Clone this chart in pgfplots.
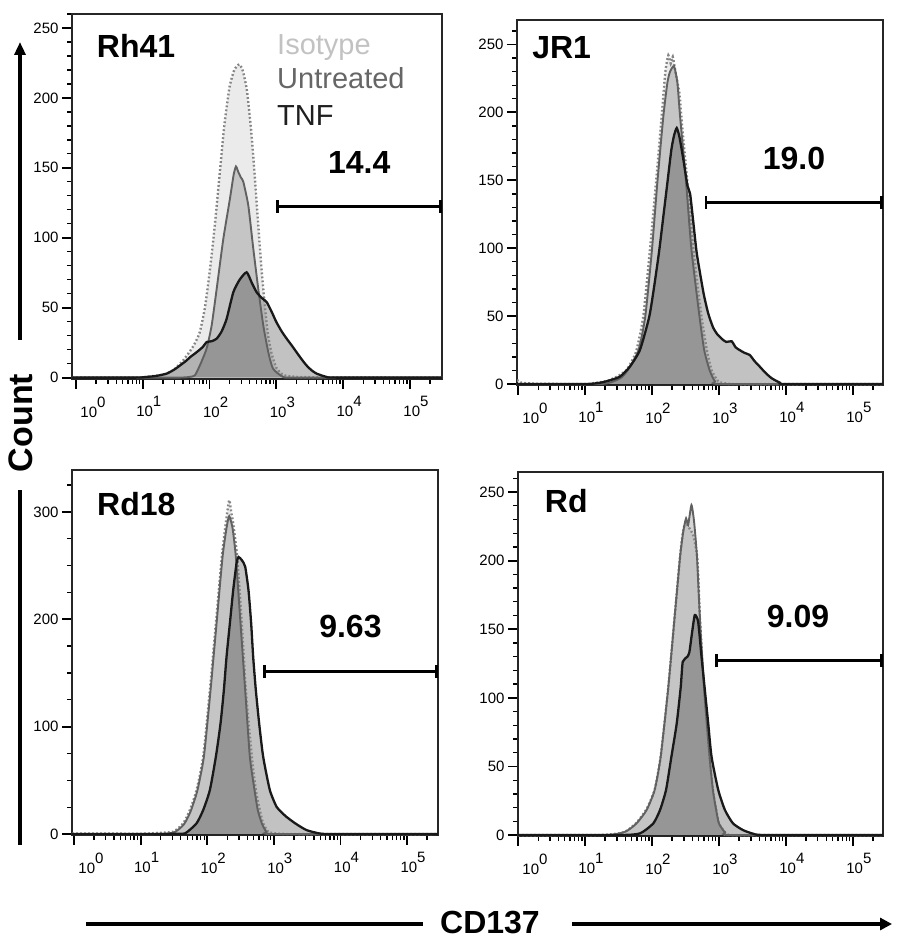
\documentclass[border=0pt]{standalone}
\usepackage{pgfplots}
\pgfplotsset{compat=1.18}
\usepackage{pgfplotstable}
\usepackage{fontspec}
\setmainfont{Liberation Sans}
\usetikzlibrary{arrows.meta}

\newcommand{\dec}[1]{10\raisebox{10pt}{#1}}
\definecolor{cIso}{gray}{0.52}
\definecolor{cUnt}{gray}{0.38}
\definecolor{cTnf}{gray}{0.10}
\definecolor{cIsoText}{gray}{0.76}
\definecolor{cUntText}{gray}{0.40}

% ---------- Panel 1: Rh41 ----------
\pgfplotstableread{
x y
-0.06 0
0.9 0
1.1 0.8
1.3 2
1.45 5
1.6 12
1.75 22
1.85 32
1.93 50
2.0 75
2.07 105
2.14 140
2.22 180
2.30 208
2.37 220
2.445 224
2.50 219
2.56 205
2.62 178
2.67 148
2.72 115
2.77 82
2.82 55
2.87 32
2.93 17
3.0 7
3.1 2
3.25 0.7
3.5 0.3
5.48 0
}\isoA
\pgfplotstableread{
x y
-0.06 0
1.5 0
1.7 0.5
1.78 1.6
1.855 8.8
1.955 20.7
2.03 37
2.105 63
2.205 99
2.305 128
2.36 145
2.395 151
2.43 147
2.47 143
2.505 140
2.58 123
2.655 92
2.73 63
2.805 37
2.88 18
2.95 6.4
3.10 0.5
3.3 0
5.48 0
}\untA
\pgfplotstableread{
x y
-0.06 0
0.9 0
1.06 0.5
1.2 1.2
1.36 2.9
1.48 6
1.56 8.8
1.65 12
1.71 14.7
1.81 18.3
1.9 22
1.955 25.4
2.03 26
2.105 27.8
2.18 33
2.255 42
2.355 61
2.45 70
2.555 75.3
2.63 68
2.705 61
2.78 57
2.855 54
2.93 47
3.0 39.7
3.08 33
3.155 27.8
3.23 23
3.30 18.3
3.38 13
3.45 8.8
3.52 5.5
3.60 2.9
3.75 0.5
3.9 0
5.48 0
}\tnfA

% ---------- Panel 2: JR1 ----------
\pgfplotstableread{
x y
-0.015 3
0.05 1
0.3 0.2
1.0 0
1.1 0.5
1.25 1.5
1.37 3
1.5 6
1.62 10.3
1.70 17
1.77 25
1.87 49.6
1.97 98.8
2.06 148
2.145 197
2.20 230
2.245 242
2.28 236
2.31 241
2.35 230
2.41 214
2.45 190
2.53 148
2.62 98.8
2.74 49.6
2.82 25
2.89 10.3
2.99 2
3.1 0.5
3.3 0
5.45 0
}\isoB
\pgfplotstableread{
x y
-0.015 0
1.2 0
1.4 1.5
1.55 5
1.65 11
1.80 25
1.90 49.6
2.0 98.8
2.08 148
2.17 197
2.23 221.7
2.27 230
2.33 234
2.38 221.7
2.42 197
2.51 148
2.59 98.8
2.71 49.6
2.78 25
2.86 10.3
2.94 2
3.05 0
5.45 0
}\untB
\pgfplotstableread{
x y
-0.015 0
1.0 0
1.2 0.8
1.32 2
1.52 5.4
1.67 12.8
1.82 25
1.96 49.6
2.04 74.2
2.11 98.8
2.17 123.4
2.23 148
2.29 172.6
2.33 183
2.37 188.5
2.41 182
2.47 165
2.53 146
2.57 140
2.62 118
2.67 96
2.77 67
2.84 52
2.91 42
2.97 37
3.05 33
3.11 31
3.19 31.5
3.25 27
3.31 25
3.38 23
3.46 21.4
3.53 17
3.61 12.8
3.70 8
3.79 4.2
3.91 1
4.0 0
5.45 0
}\tnfB

% ---------- Panel 3: Rd18 ----------
\pgfplotstableread{
x y
-0.03 0.5
1.0 0.3
1.24 1
1.49 2.2
1.64 10
1.74 22.4
1.84 41
1.94 72
2.04 134
2.13 196
2.22 258
2.28 290
2.33 311
2.36 300
2.39 289
2.45 258
2.52 196
2.58 134
2.67 72
2.73 41
2.79 22.4
2.84 10
2.92 2
3.05 0.5
3.3 0
5.465 0
}\isoC
\pgfplotstableread{
x y
-0.03 0
1.2 0
1.5 1.5
1.65 9
1.75 21
1.85 40
1.95 72
2.05 134
2.14 196
2.23 258
2.29 285
2.33 296
2.38 285
2.43 258
2.50 196
2.57 134
2.64 72
2.71 41
2.76 22
2.82 10
2.89 2
3.0 0
5.465 0
}\untC
\pgfplotstableread{
x y
-0.03 0
1.3 0
1.5 0.3
1.67 0.7
1.84 10
1.94 22.4
2.04 41
2.13 72
2.20 103
2.25 134
2.29 165
2.34 196
2.39 227
2.44 252
2.47 258
2.52 255
2.57 249
2.62 227
2.66 196
2.69 165
2.73 134
2.78 103
2.84 72
2.94 41
3.04 25.5
3.12 20
3.19 16
3.32 10
3.49 3.7
3.69 0.5
3.9 0
5.465 0
}\tnfC

% ---------- Panel 4: Rd ----------
\pgfplotstableread{
x y
0 0
1.2 0
1.5 1.2
1.62 3
1.77 9
1.92 19
2.04 33
2.13 57
2.24 106
2.33 154
2.42 203
2.46 220
2.50 228
2.54 225
2.58 222
2.62 218
2.67 205
2.69 190
2.72 154
2.78 106
2.86 57
2.91 33
2.96 18
3.00 8.5
3.09 2
3.2 0
5.45 0
}\isoD
\pgfplotstableread{
x y
0 0
1.3 0
1.6 2.4
1.77 8.5
1.92 18.2
2.04 32.8
2.13 57
2.24 105.7
2.33 154.3
2.42 202.8
2.47 222
2.51 230.8
2.54 226
2.59 240.5
2.63 228
2.67 205
2.69 185
2.72 154.3
2.78 105.7
2.86 57
2.91 32.8
2.96 18
3.00 8.5
3.09 2
3.2 0
5.45 0
}\untD
\pgfplotstableread{
x y
0 0
1.5 0
1.82 1.2
2.02 8.5
2.12 18.2
2.21 32.8
2.29 57
2.37 81.4
2.43 108
2.46 126.3
2.53 130
2.56 133.6
2.60 148
2.64 160.3
2.69 155.5
2.74 130
2.79 105.7
2.84 81.4
2.89 57
2.99 32.8
3.09 18.2
3.21 8.5
3.36 3.6
3.51 1
3.7 0
5.45 0
}\tnfD

\tikzset{gate/.style={line width=2.6pt, {Bar[width=13pt,line width=2.6pt]}-{Bar[width=13pt,line width=2.6pt]}}}

\pgfplotsset{
  flow/.style={
    scale only axis,
    clip mode=individual,
    axis line style={line width=1.6pt, black!85},
    tick align=outside,
    xtick pos=left, ytick pos=left,
    major tick length=10pt, minor tick length=5pt,
    every major tick/.append style={black, line width=1.8pt},
    every minor tick/.append style={black, line width=1.3pt},
    tick label style={font=\fontsize{15}{15}\selectfont},
    /pgf/number format/assume math mode=true,
    xtick={0,1,2,3,4,5},
    xticklabels={\hspace*{22pt}\dec{0},\dec{1},\dec{2},\dec{3},\dec{4},\dec{5}},
    xticklabel style={xshift=6pt, yshift=-4pt},
    minor xtick={0.301,0.477,0.602,0.699,0.778,0.845,0.903,0.954,
                 1.301,1.477,1.602,1.699,1.778,1.845,1.903,1.954,
                 2.301,2.477,2.602,2.699,2.778,2.845,2.903,2.954,
                 3.301,3.477,3.602,3.699,3.778,3.845,3.903,3.954,
                 4.301,4.477,4.602,4.699,4.778,4.845,4.903,4.954,
                 5.301},
  },
  fIso/.style={draw=none, fill=black, fill opacity=0.08, smooth, tension=0.35},
  fUnt/.style={draw=none, fill=black, fill opacity=0.16, smooth, tension=0.35},
  fTnf/.style={draw=none, fill=black, fill opacity=0.24, smooth, tension=0.35},
  lIso/.style={color=cIso, line width=2.4pt, dash pattern=on 1.8pt off 2.2pt, smooth, tension=0.35},
  lUnt/.style={color=cUnt, line width=1.9pt, smooth, tension=0.35},
  lTnf/.style={color=cTnf, line width=2.3pt, smooth, tension=0.35},
}

\newcommand{\ttl}{\fontsize{32}{32}\selectfont\bfseries}
\newcommand{\leg}{\fontsize{29}{29}\selectfont}

\begin{document}
\begin{tikzpicture}
\path[use as bounding box] (0,0) rectangle (918pt,-949pt);

% Panel 1
\begin{axis}[flow, at={(72pt,-379pt)}, anchor=south west,
  width=370pt, height=365pt,
  xmin=-0.06, xmax=5.48, ymin=-1, ymax=260,
  ytick={0,50,100,150,200,250},
  minor ytick={10,20,30,40,60,70,80,90,110,120,130,140,160,170,180,190,210,220,230,240,260}]
\addplot[fIso] table {\isoA} \closedcycle;
\addplot[fUnt] table {\untA} \closedcycle;
\addplot[fTnf] table {\tnfA} \closedcycle;
\addplot[lIso] table {\isoA};
\addplot[lUnt] table {\untA};
\addplot[lTnf] table {\tnfA};
\draw[gate] (axis cs:3.0,122.4) -- (axis cs:5.48,122.4);
\node[font=\ttl] at (axis cs:4.24,154) {14.4};
\node[font=\ttl, anchor=base west, inner sep=0pt] at (axis cs:0.31,229) {Rh41};
\node[font=\leg, text=cIsoText, anchor=base west, inner sep=0pt] at (axis cs:3.01,231) {Isotype};
\node[font=\leg, text=cUntText, anchor=base west, inner sep=0pt] at (axis cs:3.01,207) {Untreated};
\node[font=\leg, text=black!88, anchor=base west, inner sep=0pt] at (axis cs:3.01,180) {TNF};
\end{axis}

% Panel 2
\begin{axis}[flow, at={(517pt,-385pt)}, anchor=south west,
  width=366pt, height=365pt,
  xmin=-0.015, xmax=5.45, ymin=-0.7, ymax=268,
  ytick={0,50,100,150,200,250},
  minor ytick={10,20,30,40,60,70,80,90,110,120,130,140,160,170,180,190,210,220,230,240,260}]
\addplot[fIso] table {\isoB} \closedcycle;
\addplot[fUnt] table {\untB} \closedcycle;
\addplot[fTnf] table {\tnfB} \closedcycle;
\addplot[lIso] table {\isoB};
\addplot[lUnt] table {\untB};
\addplot[lTnf] table {\tnfB};
\draw[gate] (axis cs:2.79,133.7) -- (axis cs:5.45,133.7);
\node[font=\ttl] at (axis cs:4.12,166) {19.0};
\node[font=\ttl, anchor=base west, inner sep=0pt] at (axis cs:0.21,240) {JR1};
\end{axis}

% Panel 3
\begin{axis}[flow, at={(72pt,-835pt)}, anchor=south west,
  width=366pt, height=365pt,
  xmin=-0.03, xmax=5.465, ymin=-0.9, ymax=339,
  ytick={0,100,200,300},
  minor ytick={25,50,75,125,150,175,225,250,275,325}]
\addplot[fIso] table {\isoC} \closedcycle;
\addplot[fUnt] table {\untC} \closedcycle;
\addplot[fTnf] table {\tnfC} \closedcycle;
\addplot[lIso] table {\isoC};
\addplot[lUnt] table {\untC};
\addplot[lTnf] table {\tnfC};
\draw[gate] (axis cs:2.84,151.3) -- (axis cs:5.465,151.3);
\node[font=\ttl] at (axis cs:4.15,193) {9.63};
\node[font=\ttl, anchor=base west, inner sep=0pt] at (axis cs:0.345,297) {Rd18};
\end{axis}

% Panel 4
\begin{axis}[flow, at={(518pt,-836pt)}, anchor=south west,
  width=365pt, height=364pt,
  xmin=0, xmax=5.45, ymin=-0.7, ymax=264.6,
  ytick={0,50,100,150,200,250},
  minor ytick={10,20,30,40,60,70,80,90,110,120,130,140,160,170,180,190,210,220,230,240,260}]
\addplot[fIso] table {\isoD} \closedcycle;
\addplot[fUnt] table {\untD} \closedcycle;
\addplot[fTnf] table {\tnfD} \closedcycle;
\addplot[lIso] table {\isoD};
\addplot[lUnt] table {\untD};
\addplot[lTnf] table {\tnfD};
\draw[gate] (axis cs:2.94,127) -- (axis cs:5.45,127);
\node[font=\ttl] at (axis cs:4.18,159) {9.09};
\node[font=\ttl, anchor=base west, inner sep=0pt] at (axis cs:0.40,235) {Rd};
\end{axis}

% outer axis labels and arrows
\draw[line width=3.5pt, -{Triangle[length=13pt,width=11pt]}] (20pt,-340pt) -- (20pt,-42pt);
\draw[line width=3.5pt] (20pt,-490pt) -- (20pt,-845pt);
\node[rotate=90, font=\fontsize{34}{34}\selectfont\bfseries] at (21pt,-423pt) {Count};
\draw[line width=3.5pt] (86pt,-924pt) -- (423pt,-924pt);
\draw[line width=3.5pt, -{Triangle[length=12pt,width=12pt]}] (572pt,-924pt) -- (892pt,-924pt);
\node[font=\fontsize{32}{32}\selectfont\bfseries] at (490pt,-922pt) {CD137};
\end{tikzpicture}
\end{document}
